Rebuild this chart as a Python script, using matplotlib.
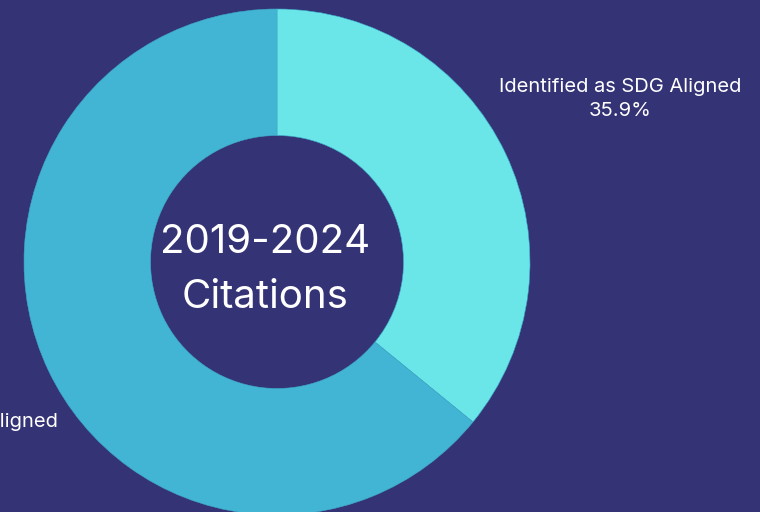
import matplotlib.pyplot as plt

labels = ["Identified as SDG Aligned", "Not Identified as SDG Aligned"]
shares = [35.9, 64.1]
colors = ["#6ae6e9", "#42b5d5"]
center_title = "2019-2024\nCitations"

bg = "#343375"
plt.rcParams['font.family'] = ['Inter', 'DejaVu Sans']

fig = plt.figure(figsize=(7.6, 5.12), dpi=100, facecolor=bg)
ax = fig.add_axes([0, 0, 1, 1])
ax.set_facecolor(bg)

wedges, texts = ax.pie(
    shares, colors=colors, startangle=90, counterclock=False,
    center=(277, 250), radius=253, frame=True,
    labels=[f"{l}\n{s}%" for l, s in zip(labels, shares)],
    labeldistance=1.5,
    wedgeprops=dict(width=126.5, edgecolor="#3ea9c8", linewidth=0.4),
    textprops=dict(color="white", fontsize=14.5, linespacing=1.45),
)
for t in texts:
    t.set_horizontalalignment('center')
    t.set_verticalalignment('center')
    t.set_multialignment('center')

# the second label sits partly off the left edge, as in the original
texts[1].set_horizontalalignment('right')
texts[1].set_position((58, 78))

ax.set_xlim(0, 760)
ax.set_ylim(0, 512)
ax.axis('off')

ax.text(265, 242, center_title, ha='center', va='center', color='white',
        fontsize=29, linespacing=1.6)

fig.savefig("out.png", dpi=100, facecolor=bg)
